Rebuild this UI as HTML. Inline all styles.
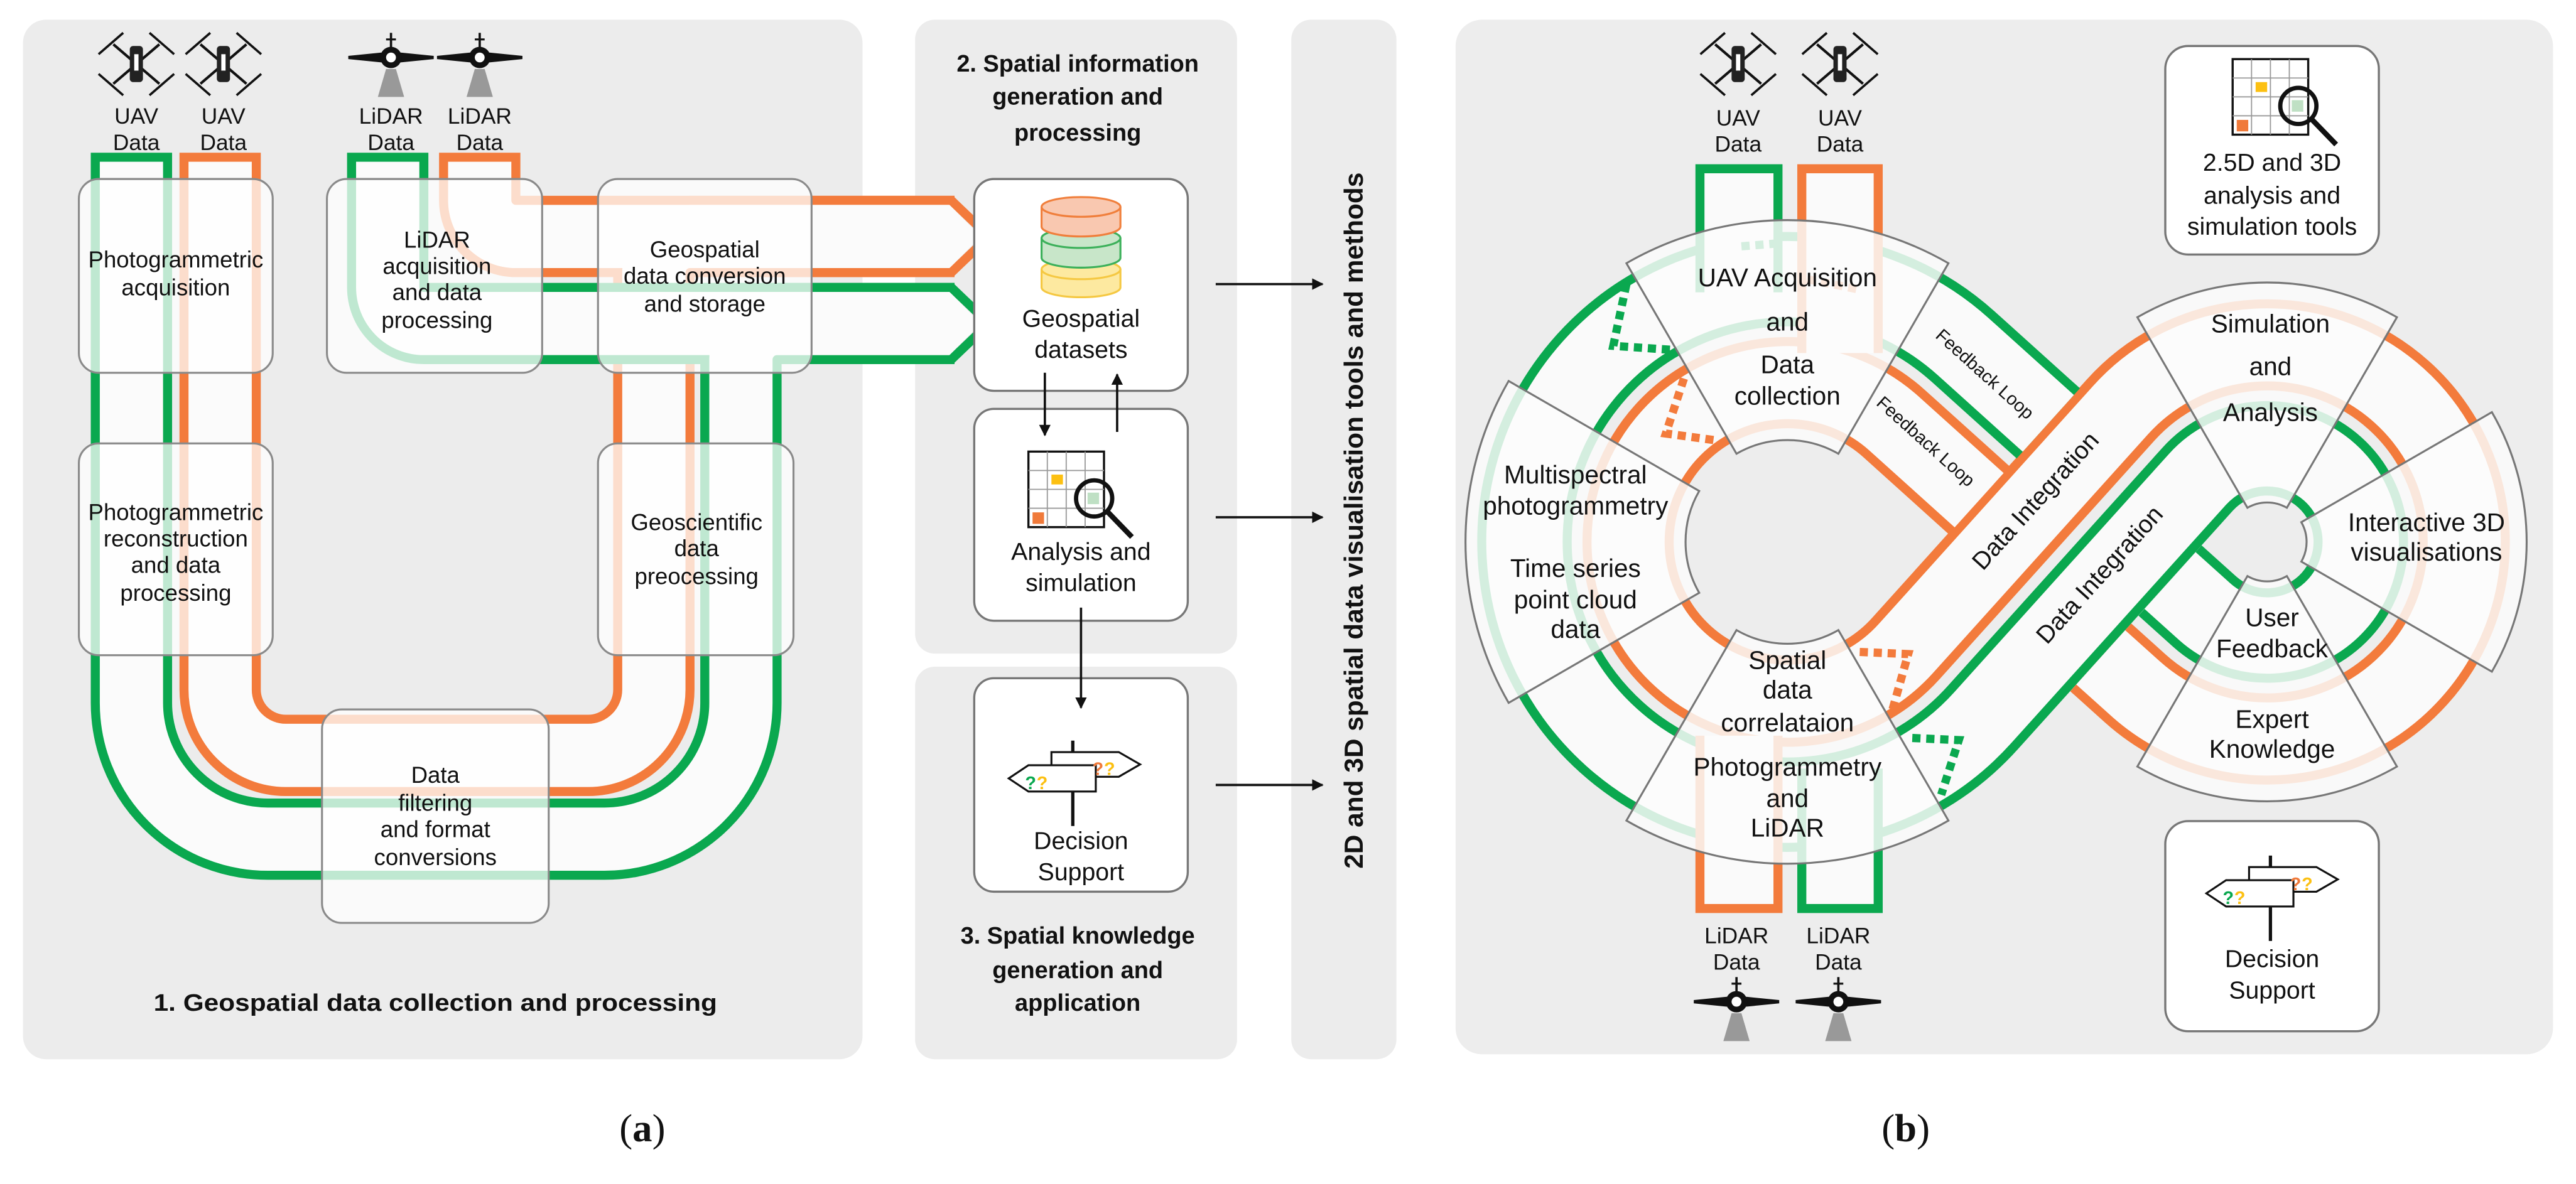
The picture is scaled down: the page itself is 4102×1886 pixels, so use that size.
<!DOCTYPE html>
<html><head><meta charset="utf-8"><style>
html,body{margin:0;padding:0;background:#fff;}
svg{display:block;}
text{font-family:"Liberation Sans",Arial,sans-serif;fill:#111;}
</style></head><body>
<svg width="4102" height="1886" viewBox="0 0 1568 721" preserveAspectRatio="none" xmlns="http://www.w3.org/2000/svg">
<defs>
<g id="drone">
 <line x1="-14" y1="-12" x2="14" y2="12" stroke="#111" stroke-width="1.6"/>
 <line x1="-14" y1="12" x2="14" y2="-12" stroke="#111" stroke-width="1.6"/>
 <line x1="-23" y1="-6" x2="-8" y2="-19" stroke="#111" stroke-width="1.4"/>
 <line x1="8" y1="-19" x2="23" y2="-6" stroke="#111" stroke-width="1.4"/>
 <line x1="-23" y1="6" x2="-8" y2="19" stroke="#111" stroke-width="1.4"/>
 <line x1="8" y1="19" x2="23" y2="6" stroke="#111" stroke-width="1.4"/>
 <rect x="-4" y="-11" width="8" height="22" rx="2" fill="#222"/>
 <rect x="-1.3" y="-6" width="2.6" height="10" fill="#fff"/>
</g>
<g id="plane">
 <line x1="0" y1="-19" x2="0" y2="-9" stroke="#111" stroke-width="1.4"/>
 <line x1="-3" y1="-15" x2="3" y2="-15" stroke="#111" stroke-width="1.2"/>
 <path d="M-26,-5 L-6,-7 L6,-7 L26,-5 L26,-3 L6,-1 L-6,-1 L-26,-3 Z" fill="#111"/>
 <circle cx="0" cy="-4" r="6.5" fill="#111"/>
 <circle cx="0" cy="-4" r="3" fill="#fff"/>
 <path d="M-3,3 L3,3 L8,20 L-8,20 Z" fill="#999"/>
</g>
<g id="grid">
 <rect x="0" y="0" width="46" height="46" fill="#fff" stroke="#111" stroke-width="1.3"/>
 <path d="M11.5,0V46M23,0V46M34.5,0V46M0,11.5H46M0,23H46M0,34.5H46" stroke="#999" stroke-width="0.7"/>
 <rect x="14" y="14" width="7" height="6" fill="#fcc012"/>
 <rect x="2.5" y="37" width="7" height="7" fill="#f07a3a"/>
 <rect x="36" y="25" width="7" height="7" fill="#bfe0c4"/>
 <circle cx="40" cy="28.5" r="11" fill="none" stroke="#111" stroke-width="2.6"/>
 <line x1="48" y1="36.5" x2="63" y2="52" stroke="#111" stroke-width="3.2"/>
</g>
<g id="sign">
 <line x1="0" y1="-24" x2="0" y2="28" stroke="#111" stroke-width="2"/>
 <path d="M-13,-17 H28 L41,-9.5 L28,-2 H-13 Z" fill="#fff" stroke="#111" stroke-width="1.2"/>
 <path d="M14,-9 H-27 L-39,-1 L-27,7 H14 Z" fill="#fff" stroke="#111" stroke-width="1.2"/>
 <text x="12" y="-3" font-size="11" font-weight="bold" style="fill:#f07a3a">?</text>
 <text x="19" y="-3" font-size="11" font-weight="bold" style="fill:#fcc012">?</text>
 <text x="-29" y="5.5" font-size="11" font-weight="bold" style="fill:#0aa84f">?</text>
 <text x="-22" y="5.5" font-size="11" font-weight="bold" style="fill:#fcc012">?</text>
</g>
<marker id="ah" viewBox="0 0 10 10" refX="9" refY="5" markerWidth="5" markerHeight="5" orient="auto"><path d="M0,0 L10,5 L0,10 Z" fill="#111"/></marker>
</defs>

<rect x="14" y="12" width="511" height="633" rx="14" fill="#ececec"/>
<rect x="557" y="12" width="196" height="386" rx="12" fill="#ececec"/>
<rect x="557" y="406" width="196" height="239" rx="12" fill="#ececec"/>
<rect x="786" y="12" width="64" height="633" rx="12" fill="#ececec"/>
<rect x="886" y="12" width="668" height="630" rx="16" fill="#ededed"/>

<g fill="none" stroke-linejoin="round">
 <path d="M134,93 V420 A40,40 0 0 0 174,460 H358 A40,40 0 0 0 398,420 V166 A22,22 0 0 1 420,144 H581" stroke="#f37b3c" stroke-width="49.5"/>
 <path d="M292,93 V122 A22,22 0 0 0 314,144 H581" stroke="#f37b3c" stroke-width="49.5"/>
 <path d="M134,98.5 V420 A40,40 0 0 0 174,460 H358 A40,40 0 0 0 398,420 V166 A22,22 0 0 1 420,144 H582" stroke="#fbfbfb" stroke-width="38.5"/>
 <path d="M292,98.5 V122 A22,22 0 0 0 314,144 H582" stroke="#fbfbfb" stroke-width="38.5"/>
 <path d="M80,93 V428 A83,83 0 0 0 163,511 H368 A83,83 0 0 0 451,428 V219 A22,22 0 0 1 473,197 H581" stroke="#0aa84f" stroke-width="49.5"/>
 <path d="M236,93 V175 A22,22 0 0 0 258,197 H581" stroke="#0aa84f" stroke-width="49.5"/>
 <path d="M80,98.5 V428 A83,83 0 0 0 163,511 H368 A83,83 0 0 0 451,428 V219 A22,22 0 0 1 473,197 H582" stroke="#fbfbfb" stroke-width="38.5"/>
 <path d="M236,98.5 V175 A22,22 0 0 0 258,197 H582" stroke="#fbfbfb" stroke-width="38.5"/>
 <path d="M579,122 L602,144 L579,166" stroke="#f37b3c" stroke-width="5.5"/>
 <path d="M579,175 L602,197 L579,219" stroke="#0aa84f" stroke-width="5.5"/>
</g>
<path d="M578,124.8 L597,144 L578,163.2 Z" fill="#fbfbfb"/>
<path d="M578,177.8 L597,197 L578,216.2 Z" fill="#fbfbfb"/>

<g fill="rgba(255,255,255,0.74)" stroke="#8a8a8a" stroke-width="1.2">
 <rect x="48" y="109" width="118" height="118" rx="12"/>
 <rect x="48" y="270" width="118" height="129" rx="12"/>
 <rect x="199" y="109" width="131" height="118" rx="12"/>
 <rect x="364" y="109" width="130" height="118" rx="12"/>
 <rect x="364" y="270" width="119" height="129" rx="12"/>
 <rect x="196" y="432" width="138" height="130" rx="12"/>
</g>
<g font-size="14" text-anchor="middle" dominant-baseline="central">
 <text x="107" y="158">Photogrammetric</text><text x="107" y="175">acquisition</text>
 <text x="107" y="312">Photogrammetric</text><text x="107" y="328">reconstruction</text><text x="107" y="344">and data</text><text x="107" y="361">processing</text>
 <text x="266" y="146">LiDAR</text><text x="266" y="162">acquisition</text><text x="266" y="178">and data</text><text x="266" y="195">processing</text>
 <text x="429" y="152">Geospatial</text><text x="429" y="168">data conversion</text><text x="429" y="185">and storage</text>
 <text x="424" y="318">Geoscientific</text><text x="424" y="334">data</text><text x="424" y="351">preocessing</text>
 <text x="265" y="472">Data</text><text x="265" y="489">filtering</text><text x="265" y="505">and format</text><text x="265" y="522">conversions</text>
</g>
<g font-size="13.5" text-anchor="middle" dominant-baseline="central">
 <text x="83" y="71">UAV</text><text x="83" y="87">Data</text>
 <text x="136" y="71">UAV</text><text x="136" y="87">Data</text>
 <text x="238" y="71">LiDAR</text><text x="238" y="87">Data</text>
 <text x="292" y="71">LiDAR</text><text x="292" y="87">Data</text>
</g>
<use href="#drone" x="83" y="39"/><use href="#drone" x="136" y="39"/>
<use href="#plane" x="238" y="39"/><use href="#plane" x="292" y="39"/>
<text x="265" y="611" font-size="14.5" font-weight="bold" text-anchor="middle" dominant-baseline="central" textLength="343" lengthAdjust="spacingAndGlyphs">1. Geospatial data collection and processing</text>

<g font-size="14.5" font-weight="bold" text-anchor="middle" dominant-baseline="central">
 <text x="656" y="39">2. Spatial information</text><text x="656" y="59">generation and</text><text x="656" y="81">processing</text>
 <text x="656" y="570">3. Spatial knowledge</text><text x="656" y="591">generation and</text><text x="656" y="611">application</text>
</g>
<g fill="#fff" stroke="#777" stroke-width="1.3">
 <rect x="593" y="109" width="130" height="129" rx="12"/>
 <rect x="593" y="249" width="130" height="129" rx="12"/>
 <rect x="593" y="413" width="130" height="130" rx="12"/>
</g>
<g stroke-width="1.2">
 <path d="M634,164 V175 A24,6 0 0 0 682,175 V164" fill="#fde9a0" stroke="#f5c842"/>
 <ellipse cx="658" cy="164" rx="24" ry="6" fill="#fde9a0" stroke="#f5c842"/>
 <path d="M634,145 V157 A24,6 0 0 0 682,157 V145" fill="#c8e6c9" stroke="#3cb05a"/>
 <ellipse cx="658" cy="145" rx="24" ry="6" fill="#c8e6c9" stroke="#3cb05a"/>
 <path d="M634,126 V138 A24,6 0 0 0 682,138 V126" fill="#f9c8b0" stroke="#f07f3c"/>
 <ellipse cx="658" cy="126" rx="24" ry="6" fill="#f9c8b0" stroke="#f07f3c"/>
</g>
<use href="#grid" x="626" y="275"/>
<use href="#sign" x="653" y="475"/>
<g font-size="15" text-anchor="middle" dominant-baseline="central">
 <text x="658" y="194">Geospatial</text><text x="658" y="213">datasets</text>
 <text x="658" y="336">Analysis and</text><text x="658" y="355">simulation</text>
 <text x="658" y="512">Decision</text><text x="658" y="531">Support</text>
</g>
<g stroke="#111" stroke-width="1.4" marker-end="url(#ah)">
 <line x1="636" y1="227" x2="636" y2="265"/>
 <line x1="680" y1="263" x2="680" y2="228"/>
 <line x1="658" y1="370" x2="658" y2="431"/>
 <line x1="740" y1="173" x2="805" y2="173"/>
 <line x1="740" y1="315" x2="805" y2="315"/>
 <line x1="740" y1="478" x2="805" y2="478"/>
</g>
<text transform="translate(824,317) rotate(-90)" font-size="16" font-weight="bold" text-anchor="middle" dominant-baseline="central" textLength="424" lengthAdjust="spacingAndGlyphs">2D and 3D spatial data visualisation tools and methods</text>

<g fill="none">
 <path d="M1204.7,304.6 L1152.9,257.9 A97,97 0 1 0 1160.1,394.9 L1290.8,249.7 A120,120 0 1 1 1299.7,419.2 L1278.7,400.3" stroke="#f37b3c" stroke-width="55.5"/>
 <path d="M1246.8,257.8 L1195,211.1 A160,160 0 1 0 1206.9,437 L1337.6,291.9 A57,57 0 1 1 1341.9,372.4 L1320.9,353.5" stroke="#0aa84f" stroke-width="57.5"/>
 <path d="M1204.7,304.6 L1152.9,257.9 A97,97 0 1 0 1160.1,394.9 L1290.8,249.7 A120,120 0 1 1 1299.7,419.2 L1278.7,400.3" stroke="#fafafa" stroke-width="44.5"/>
 <path d="M1246.8,257.8 L1195,211.1 A160,160 0 1 0 1206.9,437 L1337.6,291.9 A57,57 0 1 1 1341.9,372.4 L1320.9,353.5" stroke="#fafafa" stroke-width="46.5"/>
</g>
<path d="M1034.75,178 V102.75 H1082.25 V178" fill="#fafafa" stroke="#0aa84f" stroke-width="5.5"/>
<path d="M1096.75,215 V102.75 H1143.25 V215" fill="#fafafa" stroke="#f37b3c" stroke-width="5.5"/>
<path d="M1034.75,448 V553.25 H1082.25 V448" fill="#fafafa" stroke="#f37b3c" stroke-width="5.5"/>
<path d="M1096.75,468 V553.25 H1143.25 V468" fill="#fafafa" stroke="#0aa84f" stroke-width="5.5"/>
<g fill="none" stroke-width="5" stroke-dasharray="5 3.5">
 <path d="M990,173 L982,210.6 L1017,213" stroke="#0aa84f"/>
 <path d="M1025,230.5 L1014,264 L1043.5,268" stroke="#f37b3c"/>
 <path d="M1132,397 L1161.5,398.3 L1152,432" stroke="#f37b3c"/>
 <path d="M1164,449.4 L1192.3,450.7 L1181.6,484" stroke="#0aa84f"/>
 <path d="M1060,150 L1085,148" stroke="#0aa84f"/>
 <path d="M1100,170 L1130,176" stroke="#f37b3c"/>
</g>
<g fill="rgba(251,251,251,0.84)" stroke="#777" stroke-width="1.2">
 <path d="M990,160.3 A196,196 0 0 1 1186,160.3 L1119,276.3 A62,62 0 0 0 1057,276.3 Z"/>
 <path d="M918.3,428 A196,196 0 0 1 918.3,232 L1034.3,299 A62,62 0 0 0 1034.3,361 Z"/>
 <path d="M1186,499.7 A196,196 0 0 1 990,499.7 L1057,383.7 A62,62 0 0 0 1119,383.7 Z"/>
 <path d="M1301,193.2 A158,158 0 0 1 1459,193.2 L1392,309.2 A24,24 0 0 0 1368,309.2 Z"/>
 <path d="M1516.8,251 A158,158 0 0 1 1516.8,409 L1400.8,342 A24,24 0 0 0 1400.8,318 Z"/>
 <path d="M1459,466.8 A158,158 0 0 1 1301,466.8 L1368,350.8 A24,24 0 0 0 1392,350.8 Z"/>
</g>
<g font-size="15.5" text-anchor="middle" dominant-baseline="central">
 <text x="1088" y="169">UAV Acquisition</text><text x="1088" y="196">and</text><text x="1088" y="222">Data</text><text x="1088" y="241">collection</text>
 <text x="959" y="289">Multispectral</text><text x="959" y="308">photogrammetry</text>
 <text x="959" y="346">Time series</text><text x="959" y="365">point cloud</text><text x="959" y="383">data</text>
 <text x="1088" y="402">Spatial</text><text x="1088" y="420">data</text><text x="1088" y="440">correlataion</text>
 <text x="1088" y="467">Photogrammetry</text><text x="1088" y="486">and</text><text x="1088" y="504">LiDAR</text>
 <text x="1382" y="197">Simulation</text><text x="1382" y="223">and</text><text x="1382" y="251">Analysis</text>
 <text x="1477" y="318">Interactive 3D</text><text x="1477" y="336">visualisations</text>
 <text x="1383" y="376">User</text><text x="1383" y="395">Feedback</text>
 <text x="1383" y="438">Expert</text><text x="1383" y="456">Knowledge</text>
</g>
<g font-size="11" text-anchor="middle" dominant-baseline="central">
 <text transform="translate(1208,228) rotate(42)">Feedback Loop</text>
 <text transform="translate(1172,269) rotate(42)">Feedback Loop</text>
</g>
<g font-size="15" text-anchor="middle" dominant-baseline="central">
 <text transform="translate(1239,305) rotate(-48)">Data Integration</text>
 <text transform="translate(1278,350) rotate(-48)">Data Integration</text>
</g>
<g font-size="13.5" text-anchor="middle" dominant-baseline="central">
 <text x="1058" y="72">UAV</text><text x="1058" y="88">Data</text>
 <text x="1120" y="72">UAV</text><text x="1120" y="88">Data</text>
 <text x="1057" y="570">LiDAR</text><text x="1057" y="586">Data</text>
 <text x="1119" y="570">LiDAR</text><text x="1119" y="586">Data</text>
</g>
<use href="#drone" x="1058" y="39"/><use href="#drone" x="1120" y="39"/>
<use href="#plane" x="1057" y="614"/><use href="#plane" x="1119" y="614"/>

<g fill="#fff" stroke="#777" stroke-width="1.3">
 <rect x="1318" y="28" width="130" height="127" rx="14"/>
 <rect x="1318" y="500" width="130" height="128" rx="14"/>
</g>
<use href="#grid" x="1359" y="36"/>
<use href="#sign" x="1382" y="545"/>
<g font-size="15" text-anchor="middle" dominant-baseline="central">
 <text x="1383" y="99">2.5D and 3D</text><text x="1383" y="119">analysis and</text><text x="1383" y="138">simulation tools</text>
 <text x="1383" y="584">Decision</text><text x="1383" y="603">Support</text>
</g>

<text x="391" y="687" font-size="24" text-anchor="middle" dominant-baseline="central" style="font-family:'Liberation Serif',serif">(<tspan font-weight="bold">a</tspan>)</text>
<text x="1160" y="687" font-size="24" text-anchor="middle" dominant-baseline="central" style="font-family:'Liberation Serif',serif">(<tspan font-weight="bold">b</tspan>)</text>
</svg>
</body></html>
